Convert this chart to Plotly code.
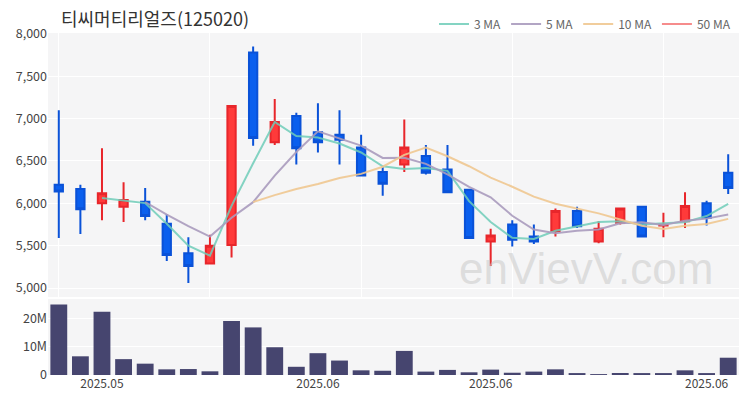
import plotly.graph_objects as go
from plotly.subplots import make_subplots
import pandas as pd

title_text = "티씨머티리얼즈(125020)"

dates = ["2025-05-15", "2025-05-16", "2025-05-19", "2025-05-20", "2025-05-21",
         "2025-05-22", "2025-05-23", "2025-05-26", "2025-05-27", "2025-05-28",
         "2025-05-29", "2025-05-30", "2025-06-02", "2025-06-04", "2025-06-05",
         "2025-06-09", "2025-06-10", "2025-06-11", "2025-06-12", "2025-06-13",
         "2025-06-16", "2025-06-17", "2025-06-18", "2025-06-19", "2025-06-20",
         "2025-06-23", "2025-06-24", "2025-06-25", "2025-06-26", "2025-06-27",
         "2025-06-30", "2025-07-01"]
holidays = ["2025-06-03", "2025-06-06"]

opens = [6220, 6170, 6000, 5960, 6020, 5760, 5410, 5290, 5510, 7780,
         6720, 7030, 6840, 6810, 6660, 6370, 6460, 6560, 6400, 6160,
         5550, 5750, 5610, 5670, 5910, 5550, 5770, 5960, 5740, 5790,
         6000, 6360]
highs = [7100, 6220, 6650, 6250, 6180, 5870, 5600, 5630, 7160, 7850,
         7230, 7070, 7180, 7100, 6810, 6440, 6990, 6690, 6690, 6170,
         5700, 5800, 5750, 5940, 5960, 5790, 5950, 5960, 5890, 6130,
         6030, 6580]
lows = [5590, 5640, 5800, 5780, 5800, 5320, 5060, 5280, 5360, 6680,
        6690, 6460, 6600, 6460, 6320, 6090, 6370, 6340, 6130, 5580,
        5260, 5490, 5520, 5610, 5710, 5530, 5750, 5610, 5600, 5710,
        5740, 6110]
closes = [6140, 5930, 6120, 6040, 5850, 5390, 5260, 5500, 7150, 6770,
          6960, 6650, 6720, 6750, 6330, 6230, 6660, 6360, 6130, 5590,
          5620, 5570, 5550, 5910, 5730, 5700, 5940, 5610, 5750, 5970,
          5830, 6180]
volumes = [24.9e6, 6.6e6, 22.3e6, 5.6e6, 4.0e6, 2.0e6, 2.1e6, 1.3e6, 19.1e6, 16.8e6,
           9.8e6, 2.9e6, 7.7e6, 5.1e6, 1.65e6, 1.5e6, 8.5e6, 1.2e6, 1.8e6, 0.95e6,
           1.9e6, 0.8e6, 1.2e6, 2.0e6, 0.6e6, 0.25e6, 0.7e6, 0.6e6, 0.6e6, 1.65e6,
           0.45e6, 6.1e6]

grid_dates = ["2025-05-15", "2025-05-26", "2025-06-05", "2025-06-17", "2025-06-26"]
label_dates = ["2025-05-19", "2025-06-02", "2025-06-16", "2025-06-30"]
price_ticks = [5000, 5500, 6000, 6500, 7000, 7500, 8000]
volume_ticks = [0, 10e6, 20e6]

ma_windows = [3, 5, 10, 50]
ma_names = ["3 MA", "5 MA", "10 MA", "50 MA"]
ma_colors = ["rgba(110,205,185,0.85)", "rgba(170,155,190,0.9)",
             "rgba(240,200,145,0.9)", "rgba(245,120,120,0.85)"]

FONT = "Noto Sans CJK KR"

close_s = pd.Series(closes, dtype=float)

fig = make_subplots(rows=2, cols=1, shared_xaxes=True)

fig.add_trace(go.Candlestick(
    x=dates, open=opens, high=highs, low=lows, close=closes,
    increasing=dict(line=dict(color="#e8262b", width=2), fillcolor="#ff3a3a"),
    decreasing=dict(line=dict(color="#0a52d8", width=2), fillcolor="#0a5fee"),
    showlegend=False, hoverinfo="skip"), row=1, col=1)

for w, name, col in zip(ma_windows, ma_names, ma_colors):
    ma = close_s.rolling(w).mean()
    fig.add_trace(go.Scatter(x=dates, y=ma, mode="lines", name=name,
                             line=dict(color=col, width=2), hoverinfo="skip"),
                  row=1, col=1)

fig.add_trace(go.Bar(x=dates, y=volumes, marker=dict(color="#46456f", line=dict(width=0)),
                     showlegend=False, hoverinfo="skip"), row=2, col=1)

rb = [dict(bounds=["sat", "mon"]), dict(values=holidays)]

fig.update_layout(
    width=750, height=400,
    margin=dict(l=48, r=11, t=33, b=25, autoexpand=False),
    paper_bgcolor="white", plot_bgcolor="#f5f5f6",
    font=dict(family=FONT, size=12, color="#444"),
    title=dict(text=title_text, x=61 / 750, xanchor="left", y=1 - 20 / 400,
               yanchor="middle", xref="container", yref="container",
               font=dict(family=FONT, size=18, color="#333")),
    legend=dict(orientation="h", x=1 - 14 / 750, xanchor="right", xref="container",
                y=1 - 24 / 400, yanchor="middle", yref="container",
                font=dict(size=12, color="#666"), bgcolor="rgba(0,0,0,0)",
                itemwidth=30, tracegroupgap=0),
    bargap=0.22,
    boxgap=0.45,
    showlegend=True,
)

fig.update_xaxes(rangebreaks=rb, rangeslider_visible=False, showline=False, zeroline=False)
fig.update_xaxes(row=1, col=1, tickmode="array", tickvals=grid_dates, showticklabels=False,
                 showgrid=True, gridcolor="white", gridwidth=1, ticks="")
fig.update_xaxes(row=2, col=1, tickmode="array", tickvals=label_dates, tickformat="%Y.%m",
                 showgrid=False, ticks="", tickfont=dict(size=12, color="#444"))

fig.update_yaxes(row=1, col=1, domain=[0.228, 1.0], range=[4895, 8010],
                 tickmode="array", tickvals=price_ticks, tickformat=",d",
                 showgrid=True, gridcolor="white", gridwidth=1, zeroline=False,
                 tickfont=dict(size=12.5, color="#444"))
fig.update_yaxes(row=2, col=1, domain=[0.0, 0.222], range=[0, 26.8e6],
                 tickmode="array", tickvals=volume_ticks, tickformat="~s",
                 showgrid=True, gridcolor="white", gridwidth=1, zeroline=False,
                 tickfont=dict(size=12.5, color="#444"))

fig.add_annotation(text="enVievV.com", xref="paper", yref="paper",
                   x=(586 - 48) / 691, y=(375 - 268) / 342, showarrow=False,
                   xanchor="center", yanchor="middle",
                   font=dict(family="Liberation Sans", size=44, color="rgba(200,200,200,0.55)"))

fig.write_html("out.html", config={"displayModeBar": False},
               post_script="document.body.style.margin='0';")
